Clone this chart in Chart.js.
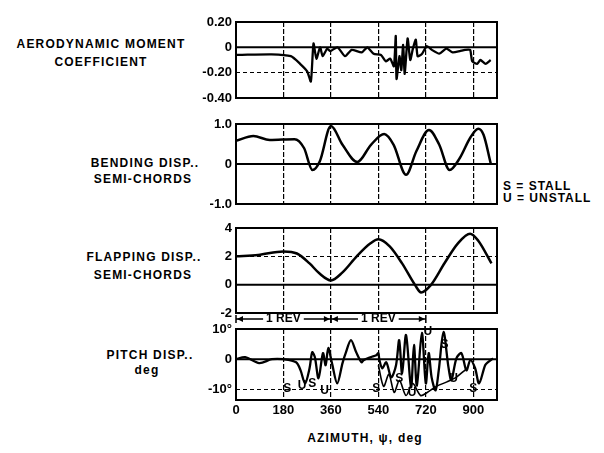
<!DOCTYPE html>
<html>
<head>
<meta charset="utf-8">
<script src="https://cdn.jsdelivr.net/npm/chart.js@4.4.0/dist/chart.umd.min.js"></script>
<style>
  body { margin: 0; background: #fff; width: 604px; height: 453px; position: relative; overflow: hidden;
         font-family: 'Liberation Sans', Arial, sans-serif; font-weight: bold; color: #000; }
  canvas { position: absolute; }
  .lbl { position: absolute; text-align: center; font-size: 12px; letter-spacing: 1.2px; line-height: 16px; white-space: nowrap; }
  .lft { position: absolute; font-size: 12px; letter-spacing: 1px; line-height: 12px; white-space: nowrap; }
</style>
</head>
<body>
<div class="lbl" style="left:1px;width:200px;top:36px">AERODYNAMIC MOMENT</div>
<div class="lbl" style="left:1px;width:200px;top:54px">COEFFICIENT</div>
<div class="lbl" style="left:45px;width:200px;top:155px">BENDING DISP..</div>
<div class="lbl" style="left:43px;width:200px;top:171px">SEMI-CHORDS</div>
<div class="lbl" style="left:44px;width:200px;top:249px">FLAPPING DISP..</div>
<div class="lbl" style="left:43px;width:200px;top:267px">SEMI-CHORDS</div>
<div class="lbl" style="left:50px;width:200px;top:347px">PITCH DISP..</div>
<div class="lbl" style="left:47px;width:200px;top:362px">deg</div>
<div class="lft" style="left:503px;top:180px">S = STALL</div>
<div class="lft" style="left:503px;top:192px">U = UNSTALL</div>
<div class="lbl" style="left:265px;width:200px;top:430px">AZIMUTH, ψ, deg</div>

<canvas id="moment" style="left:180px;top:10px" width="330" height="100"></canvas>
<canvas id="bending" style="left:180px;top:112px" width="330" height="104"></canvas>
<canvas id="flapping" style="left:180px;top:216px" width="330" height="109"></canvas>
<canvas id="pitch" style="left:180px;top:313px" width="330" height="111"></canvas>

<script>
const azimuthTicks = [0, 180, 360, 540, 720, 900];
const azimuthLabels = ['0', '180', '360', '540', '720', '900'];
const azimuthMax = 990;

const momentDeg = [0, 11, 135, 208, 243, 270, 284, 294, 305, 319, 329, 346, 357, 385, 414, 439, 477, 498, 522, 550, 568, 585, 599, 606, 609, 620, 627, 634, 640, 651, 661, 671, 682, 689, 706, 724, 743, 771, 798, 822, 849, 869, 888, 896, 915, 927, 947, 966];
const momentVal = [-0.06, -0.06, -0.055, -0.07, -0.13, -0.19, -0.27, 0.03, -0.09, 0, -0.07, -0.01, -0.03, 0, -0.07, -0.02, -0.04, 0, -0.05, -0.06, -0.11, -0.09, -0.15, 0.09, -0.25, -0.07, -0.18, 0.02, -0.21, 0.07, -0.10, -0.01, 0.06, -0.07, -0.05, 0.01, -0.02, -0.05, -0.01, -0.04, -0.03, -0.02, -0.02, -0.11, -0.13, -0.10, -0.13, -0.10];
const momentTicks = [-0.4, -0.2, 0, 0.2];
const momentLabels = ['-0.40', '-0.20', '0', '0.20'];

const bendDeg = [0, 66, 128, 222, 258, 290, 318, 360, 404, 460, 512, 562, 598, 645, 684, 732, 771, 810, 849, 888, 919, 939, 966];
const bendVal = [0.58, 0.7, 0.6, 0.62, 0.4, -0.15, 0.07, 0.95, 0.48, 0.05, 0.48, 0.75, 0.48, -0.27, 0.32, 0.85, 0.48, -0.15, 0.15, 0.65, 0.88, 0.73, 0.02];
const bendTicks = [-1, 0, 1];
const bendLabels = ['-1.0', '0', '1.0'];

const flapDeg = [0, 84, 180, 231, 279, 316, 360, 403, 458, 509, 540, 583, 630, 680, 702, 738, 792, 841, 888, 919, 969];
const flapVal = [2.0, 2.1, 2.35, 2.2, 1.5, 0.8, 0.3, 0.85, 2.0, 2.9, 3.2, 2.7, 1.5, -0.05, -0.55, -0.05, 1.55, 2.9, 3.6, 3.1, 1.5];
const flapTicks = [-2, 0, 2, 4];
const flapLabels = ['-2', '0', '2', '4'];

const pitchDeg = [0, 35, 88, 136, 180, 228, 245, 262, 279, 289, 299, 313, 330, 340, 350, 364, 384, 404, 416, 436, 456, 476, 484, 512, 532, 540, 544, 555, 570, 589, 607, 619, 630, 645, 664, 675, 686, 705, 720, 731, 742, 757, 769, 787, 806, 817, 836, 855, 874, 889, 907, 922, 945, 956, 975];
const pitchVal = [0, 0.7, -1.3, 0, 0, -1, -3.7, -8, -3, 2.3, 0.7, -6.3, 2, -2, 3.7, -1.3, -8, -1.3, 2, 6.3, 2.3, -1, -0.3, 0.7, 1.3, 2, -0.3, -3, -1, -6, -2, 6.3, -4.7, 8, -9.3, 4.7, -8.7, 8.7, -8, 2, -6, -10.3, -3.7, 9, -2.7, -7, 0.3, 2, -3.7, -0.3, -3, -8, -2, -1, 0.3];
const pitch2Deg = [540, 560, 580, 600, 620, 645, 670, 700, 725, 760, 800, 835, 870];
const pitch2Val = [-2, -9, -5, -11, -7, -12, -8, -12, -11, -9, -7.5, -6, -3.5];
const pitchTicks = [-10, 0, 10];
const pitchLabels = ['-10°', '0', '10°'];

const noteText = ['S', 'U', 'S', 'U', 'S', 'S', 'U', 'U', 'S', 'U', 'S'];
const noteDeg = [194, 251, 289, 336, 532, 619, 668, 728, 791, 825, 900];
const noteVal = [-9.7, -8.7, -8, -10.3, -9.7, -6.3, -11, 9, 4.7, -6.3, -9.7];

const revStart = [0, 360];
const revEnd = [360, 720];

const FONT = "'Liberation Sans', Arial, sans-serif";

function pts(xs, ys) { return xs.map((x, i) => ({ x: x, y: ys[i] })); }

// box round the plot and the solid zero line
const frame = {
  id: 'frame',
  afterDatasetsDraw(chart) {
    const a = chart.chartArea, ctx = chart.ctx, y0 = chart.scales.y.getPixelForValue(0);
    ctx.save();
    ctx.strokeStyle = '#000';
    ctx.lineWidth = 2;
    ctx.beginPath();
    ctx.moveTo(a.left, y0);
    ctx.lineTo(a.right, y0);
    ctx.stroke();
    ctx.strokeRect(a.left, a.top, a.right - a.left, a.bottom - a.top);
    ctx.restore();
  }
};

// "1 REV" arrows and the S / U marks of the pitch panel
const pitchNotes = {
  id: 'pitchNotes',
  afterDraw(chart) {
    const ctx = chart.ctx, xs = chart.scales.x, ys = chart.scales.y;
    const yy = chart.chartArea.top - 10;
    ctx.save();
    ctx.fillStyle = '#000';
    ctx.strokeStyle = '#000';
    ctx.lineWidth = 1.5;
    ctx.font = 'bold 12px ' + FONT;
    ctx.textAlign = 'center';
    ctx.textBaseline = 'middle';
    revStart.forEach((s, i) => {
      const x0 = xs.getPixelForValue(s), x1 = xs.getPixelForValue(revEnd[i]);
      const xm = (x0 + x1) / 2, tw = ctx.measureText('1 REV').width / 2 + 3;
      ctx.beginPath();
      ctx.moveTo(x0, yy - 4); ctx.lineTo(x0, yy + 4);
      ctx.moveTo(x1, yy - 4); ctx.lineTo(x1, yy + 4);
      ctx.moveTo(x0, yy); ctx.lineTo(xm - tw, yy);
      ctx.moveTo(xm + tw, yy); ctx.lineTo(x1, yy);
      ctx.stroke();
      ctx.beginPath();
      ctx.moveTo(x0 + 1, yy); ctx.lineTo(x0 + 7, yy - 3); ctx.lineTo(x0 + 7, yy + 3); ctx.closePath();
      ctx.moveTo(x1 - 1, yy); ctx.lineTo(x1 - 7, yy - 3); ctx.lineTo(x1 - 7, yy + 3); ctx.closePath();
      ctx.fill();
      ctx.fillText('1 REV', xm, yy);
    });
    noteText.forEach((t, i) => {
      ctx.fillText(t, xs.getPixelForValue(noteDeg[i]), ys.getPixelForValue(noteVal[i]));
    });
    ctx.restore();
  }
};

function panelOptions(ticks, labels, min, max, showX, padTop) {
  return {
    responsive: false,
    animation: false,
    layout: { padding: { top: padTop, bottom: showX ? 2 : 12, left: 0, right: 13 } },
    plugins: { legend: { display: false }, tooltip: { enabled: false } },
    elements: { point: { radius: 0 } },
    scales: {
      x: {
        type: 'linear', min: 0, max: azimuthMax,
        afterBuildTicks: s => { s.ticks = azimuthTicks.map(v => ({ value: v })); },
        afterFit: s => { s.height = showX ? 22 : 0; },
        ticks: {
          display: showX, color: '#000', padding: 3,
          font: { family: FONT, size: 13, weight: 'bold' },
          callback: v => azimuthLabels[azimuthTicks.indexOf(v)]
        },
        grid: { color: '#000', lineWidth: 1.2, drawTicks: false },
        border: { display: false, dash: [5, 2] }
      },
      y: {
        min: min, max: max,
        afterBuildTicks: s => { s.ticks = ticks.map(v => ({ value: v })); },
        afterFit: s => { s.width = 56; },
        ticks: {
          color: '#000', padding: 4,
          font: { family: FONT, size: 13, weight: 'bold' },
          callback: v => labels[ticks.indexOf(v)]
        },
        grid: { color: '#000', lineWidth: 1, drawTicks: false },
        border: { display: false, dash: [4, 3] }
      }
    }
  };
}

new Chart('moment', {
  type: 'line',
  data: { datasets: [{ data: pts(momentDeg, momentVal), borderColor: '#000', borderWidth: 2.3, tension: 0.2 }] },
  options: panelOptions(momentTicks, momentLabels, -0.4, 0.2, false, 12),
  plugins: [frame]
});

new Chart('bending', {
  type: 'line',
  data: { datasets: [{ data: pts(bendDeg, bendVal), borderColor: '#000', borderWidth: 2.5, cubicInterpolationMode: 'monotone' }] },
  options: panelOptions(bendTicks, bendLabels, -1, 1, false, 12),
  plugins: [frame]
});

new Chart('flapping', {
  type: 'line',
  data: { datasets: [{ data: pts(flapDeg, flapVal), borderColor: '#000', borderWidth: 2.5, cubicInterpolationMode: 'monotone' }] },
  options: panelOptions(flapTicks, flapLabels, -2, 4, false, 12),
  plugins: [frame]
});

new Chart('pitch', {
  type: 'line',
  data: {
    datasets: [
      { data: pts(pitchDeg, pitchVal), borderColor: '#000', borderWidth: 2.3, tension: 0.3 },
      { data: pts(pitch2Deg, pitch2Val), borderColor: '#000', borderWidth: 1.6, tension: 0.3 }
    ]
  },
  options: panelOptions(pitchTicks, pitchLabels, -13.5, 10, true, 16),
  plugins: [frame, pitchNotes]
});
</script>
</body>
</html>
